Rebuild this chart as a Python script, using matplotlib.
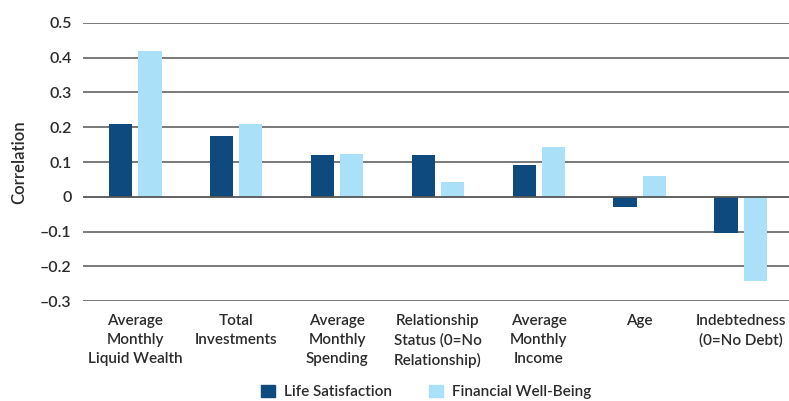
import numpy as np
import matplotlib
matplotlib.use("Agg")
import matplotlib.pyplot as plt
from matplotlib.patches import Patch

# Categories and correlation values
categories = [
    "Average\nMonthly\nLiquid Wealth",
    "Total\nInvestments",
    "Average\nMonthly\nSpending",
    "Relationship\nStatus (0=No\nRelationship)",
    "Average\nMonthly\nIncome",
    "Age",
    "Indebtedness\n(0=No Debt)",
]
life_satisfaction = [0.21, 0.175, 0.12, 0.12, 0.092, -0.028, -0.105]
financial_well_being = [0.42, 0.21, 0.123, 0.043, 0.144, 0.06, -0.243]
y_ticks = [-0.3, -0.2, -0.1, 0, 0.1, 0.2, 0.3, 0.4, 0.5]
y_tick_labels = ["\u20130.3", "\u20130.2", "\u20130.1", "0", "0.1", "0.2", "0.3", "0.4", "0.5"]

dark = "#0f4a7e"
light = "#abe0f9"
text_color = "#2b2b2b"

plt.rcParams["font.family"] = ["Lato", "DejaVu Sans"]

fig = plt.figure(figsize=(7.89, 4.01), dpi=100)
ax = fig.add_axes([0.105, 0.249, 0.895, 0.694])

x = np.arange(len(categories))
w = 0.23
ax.bar(x - 0.145, life_satisfaction, width=w, color=dark, zorder=3)
ax.bar(x + 0.145, financial_well_being, width=w, color=light, zorder=3)

ax.set_xlim(-0.52, len(categories) - 0.52)
ax.set_ylim(-0.3, 0.5)
ax.set_yticks(y_ticks)
ax.set_yticklabels(y_tick_labels, fontsize=11.5, color=text_color, fontweight="semibold")
for t in y_ticks:
    ax.axhline(t, color="#555555", lw=1.3 if t == 0 else 1.1, zorder=1 if t != 0 else 4)

ax.set_xticks(x)
ax.set_xticklabels(categories, fontsize=11, color=text_color, fontweight="semibold",
                   linespacing=1.45, va="top")
ax.tick_params(axis="both", length=0)
ax.tick_params(axis="x", pad=9)
ax.tick_params(axis="y", pad=8)
for s in ax.spines.values():
    s.set_visible(False)

ax.set_ylabel("Correlation", fontsize=12, color=text_color, fontweight="semibold", labelpad=9)

handles = [Patch(color=dark, label="Life Satisfaction"),
           Patch(color=light, label="Financial Well-Being")]
fig.legend(handles=handles, loc="lower center", bbox_to_anchor=(0.54, -0.03), ncol=2,
           frameon=False, handlelength=0.9, handleheight=0.9,
           columnspacing=2.4, handletextpad=0.6, labelcolor=text_color,
           prop={"weight": "semibold", "size": 11})

fig.savefig("out.png", dpi=100)
